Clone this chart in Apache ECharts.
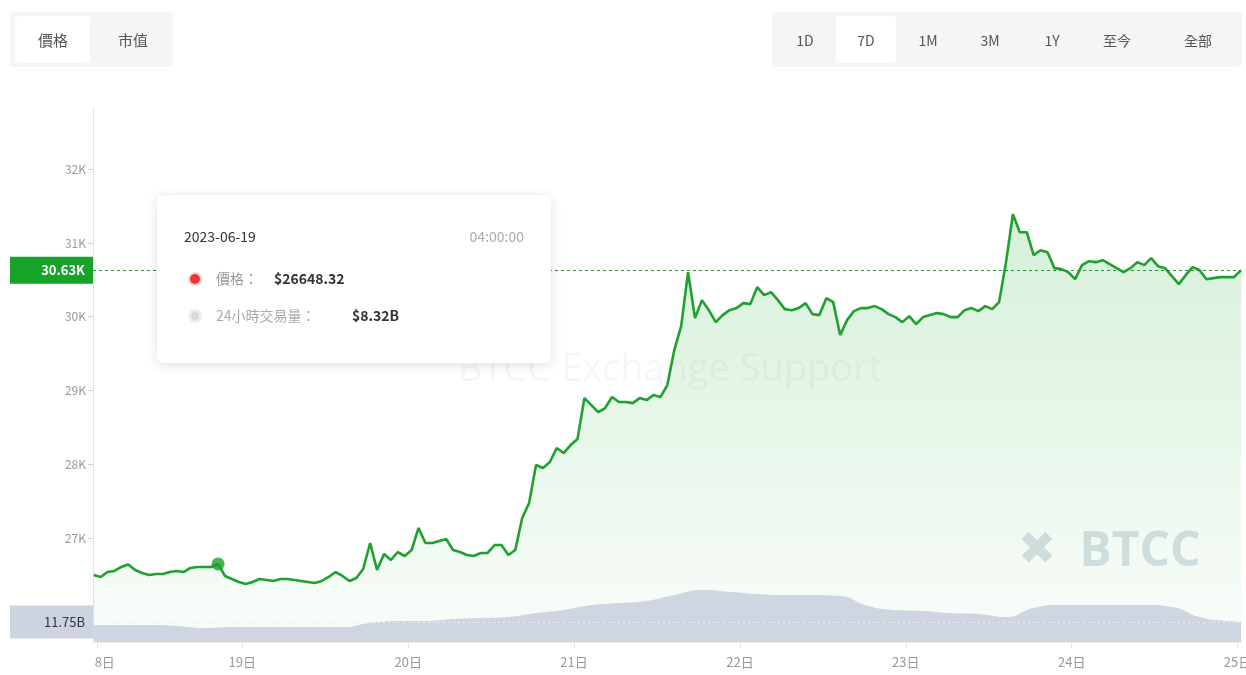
<!DOCTYPE html>
<html>
<head>
<meta charset="utf-8">
<script src="https://cdn.jsdelivr.net/npm/echarts@6/dist/echarts.min.js"></script>
<style>
html,body{margin:0;padding:0;background:#fff;}
#c{width:1246px;height:675px;}
</style>
</head>
<body>
<div id="c"></div>
<script>
// ---- data (hours relative to 2023-06-19 00:00) ----
const START_HOUR = -21.5;          // first price sample
const PRICE_STEP = 1;              // hours between price samples
const VOLUME_STEP = 4;             // hours between volume samples
const priceValues = [
26499,26472,26539,26553,26607,26640,26566,26526,26499,26512,
26512,26539,26553,26539,26594,26607,26607,26607,26648.32,26485,
26444,26404,26377,26404,26444,26431,26417,26444,26444,26431,
26417,26404,26390,26417,26472,26539,26485,26417,26458,26580,
26932,26566,26783,26702,26810,26756,26837,27136,26932,26932,
26959,26986,26837,26810,26770,26756,26797,26797,26905,26905,
26770,26837,27271,27474,27989,27949,28030,28220,28152,28260,
28341,28897,28802,28707,28762,28911,28843,28843,28829,28897,
28870,28938,28911,29073,29547,29873,30604,29981,30225,30089,
29927,30022,30089,30117,30184,30171,30401,30293,30333,30225,
30103,30089,30117,30184,30035,30022,30252,30198,29751,29954,
30076,30117,30117,30144,30103,30035,29995,29927,30008,29900,
29995,30022,30049,30035,29995,29995,30089,30117,30076,30144,
30103,30198,30740,31390,31146,31146,30835,30902,30875,30659,
30645,30604,30509,30699,30753,30740,30767,30713,30659,30604,
30659,30740,30699,30794,30686,30659,30550,30442,30564,30672,
30631,30509,30523,30537,30537,30537,30630
];
const volumeValues = [ // billions USD, 24h rolling volume
10.0,10.0,10.0,9.4,8.2,8.8,8.8,8.8,8.8,8.8,
11.2,12.3,12.3,13.5,14.1,14.7,17.0,18.8,21.7,22.9,
24.1,27.6,30.5,29.4,28.2,27.6,27.6,27.0,21.2,18.8,
18.2,17.0,16.5,14.7,20.0,21.7,21.7,21.7,21.7,20.6,
14.7,12.3,11.5
];
const highlightIndex = 18;
const lastPriceLabel = '30.63K';
const lastPrice = 30630;
const lastVolume = 11.75;
const lastVolumeLabel = '11.75B';
const priceTicks = [26000,27000,28000,29000,30000,31000,32000];
const dayTicks = [0,24,48,72,96,120,144];          // 19日 .. 25日
const dayNames = ['19日','20日','21日','22日','23日','24日','25日'];
const firstDayLabel = {hour:-19.9, text:'8日'};       // clipped "18日"
const firstDayTick = -21.0;
const tipDate = '2023-06-19';
const tipTime = '04:00:00';
const tipPrice = '$26648.32';
const tipVolume = '$8.32B';
const tabsLeft = ['價格','市值'];
const tabsRight = ['1D','7D','1M','3M','1Y','至今','全部'];

const priceData = priceValues.map((v,i)=>[START_HOUR + i*PRICE_STEP, v]);
const volumeData = volumeValues.map((v,i)=>[START_HOUR + i*VOLUME_STEP, v]);
const lastHour = priceData[priceData.length-1][0];

const FONT = '"Noto Sans CJK TC","Noto Sans",sans-serif';
const GREEN = '#1ea12f';

const chart = echarts.init(document.getElementById('c'), null, {renderer:'canvas'});

const graphics = [];
// left tab group
graphics.push({type:'rect', shape:{x:10,y:12,width:163,height:55,r:4}, style:{fill:'#f5f5f5'}, z:10});
graphics.push({type:'rect', shape:{x:15,y:16,width:75,height:47,r:4}, style:{fill:'#ffffff'}, z:11});
[53,133].forEach((cx,i)=>graphics.push({type:'text', x:cx, y:40, z:12,
  style:{text:tabsLeft[i], fill:'#555', font:'15px '+FONT, align:'center', verticalAlign:'middle'}}));
// right tab group
graphics.push({type:'rect', shape:{x:772,y:12,width:470,height:55,r:4}, style:{fill:'#f5f5f5'}, z:10});
graphics.push({type:'rect', shape:{x:836,y:16,width:60,height:47,r:4}, style:{fill:'#ffffff'}, z:11});
[805,866,928,990,1052,1117,1198].forEach((cx,i)=>graphics.push({type:'text', x:cx, y:41, z:12,
  style:{text:tabsRight[i], fill:'#555', font:'14px '+FONT, align:'center', verticalAlign:'middle'}}));
// watermarks
graphics.push({type:'text', x:670, y:370, z:1, silent:true,
  style:{text:'BTCC Exchange Support', fill:'rgba(0,0,0,0.035)', font:'38px "Open Sans",sans-serif', align:'center', verticalAlign:'middle'}});
graphics.push({type:'text', x:1037, y:552, z:1, silent:true,
  style:{text:'✖', fill:'#d9e0e7', font:'bold 46px "DejaVu Sans",sans-serif', align:'center', verticalAlign:'middle'}});
graphics.push({type:'text', x:1140, y:552, z:1, silent:true,
  style:{text:'BTCC', fill:'#d9e0e7', font:'bold 48px "Open Sans",sans-serif', align:'center', verticalAlign:'middle'}});
// tooltip box
graphics.push({type:'rect', shape:{x:157,y:195,width:394,height:168,r:6}, z:50,
  style:{fill:'#fff', shadowBlur:12, shadowColor:'rgba(0,0,0,0.13)', shadowOffsetY:2}});
graphics.push({type:'text', x:184, y:237, z:51, style:{text:tipDate, fill:'#333', font:'14px '+FONT, verticalAlign:'middle'}});
graphics.push({type:'text', x:524, y:237, z:51, style:{text:tipTime, fill:'#aaa', font:'14px '+FONT, align:'right', verticalAlign:'middle'}});
graphics.push({type:'circle', shape:{cx:195,cy:279,r:7}, z:51, style:{fill:'#f9d0d0'}});
graphics.push({type:'circle', shape:{cx:195,cy:279,r:5}, z:52, style:{fill:'#ee3535'}});
graphics.push({type:'text', x:216, y:279, z:51, style:{text:'價格：', fill:'#999', font:'14px '+FONT, verticalAlign:'middle'}});
graphics.push({type:'text', x:274, y:279, z:51, style:{text:tipPrice, fill:'#333', font:'bold 14px '+FONT, verticalAlign:'middle'}});
graphics.push({type:'circle', shape:{cx:195,cy:316,r:7}, z:51, style:{fill:'#eeeeee'}});
graphics.push({type:'circle', shape:{cx:195,cy:316,r:4}, z:52, style:{fill:'#d8d8d8'}});
graphics.push({type:'text', x:216, y:316, z:51, style:{text:'24小時交易量：', fill:'#aaa', font:'14px '+FONT, verticalAlign:'middle'}});
graphics.push({type:'text', x:352, y:316, z:51, style:{text:tipVolume, fill:'#333', font:'bold 14px '+FONT, verticalAlign:'middle'}});

const option = {
  animation:false,
  backgroundColor:'#fff',
  grid:{left:93, right:5, top:108, bottom:33, outerBoundsMode:'none', containLabel:false},
  xAxis:{
    type:'value', min:-21.6, max:lastHour,
    axisLine:{show:true, onZero:false, lineStyle:{color:'#eeeeee'}},
    axisTick:{show:true, length:6, lineStyle:{color:'#e6e6e6'}, customValues:[firstDayTick].concat(dayTicks)},
    splitLine:{show:false},
    axisLabel:{
      customValues:[firstDayLabel.hour].concat(dayTicks),
      color:'#999', fontSize:13, fontFamily:FONT, margin:14, hideOverlap:false,
      formatter:(v)=>{ if (v < 0) return firstDayLabel.text; const k = dayTicks.indexOf(Math.round(v)); return k>=0 ? dayNames[k] : ''; }
    }
  },
  yAxis:[{
    type:'value', min:25590, max:32830, position:'left',
    axisLine:{show:true, onZero:false, lineStyle:{color:'#e2e2e2'}},
    axisTick:{show:true, length:5, lineStyle:{color:'#d5d5d5'}, customValues:priceTicks},
    splitLine:{show:false},
    axisLabel:{customValues:priceTicks, color:'#999', fontSize:12, fontFamily:FONT, margin:7,
      formatter:(v)=> (v/1000)+'K'}
  },{
    type:'value', min:0, max:313.7, show:false, axisLine:{onZero:false}
  }],
  series:[{
    type:'line', name:'價格', data:priceData, yAxisIndex:0, showSymbol:false, smooth:false,
    lineStyle:{color:GREEN, width:2.6}, itemStyle:{color:GREEN}, z:3,
    areaStyle:{color:new echarts.graphic.LinearGradient(0,0,0,1,[
      {offset:0, color:'rgba(40,175,60,0.27)'},
      {offset:1, color:'rgba(40,175,60,0.04)'}])},
    markLine:{
      silent:true, symbol:'none',
      lineStyle:{color:'#1c9d2c', type:[3,3], width:1},
      label:{position:'start', distance:0, formatter:lastPriceLabel, color:'#fff', fontWeight:'bold', fontSize:13,
        fontFamily:FONT, backgroundColor:'#17a22a', padding:[7,8,7,8], width:67, align:'right'},
      data:[{yAxis:lastPrice}]
    }
  },{
    type:'line', name:'24小時交易量', data:volumeData, yAxisIndex:1, showSymbol:false, smooth:true,
    lineStyle:{width:0}, itemStyle:{color:'#cdd3e0'}, z:4,
    areaStyle:{color:'#cfd5e1', opacity:1},
    markLine:{
      silent:true, symbol:'none',
      lineStyle:{color:'#e9ecf2', type:[2,3], width:1},
      label:{position:'start', distance:0, formatter:lastVolumeLabel, color:'#333', fontSize:13,
        fontFamily:FONT, backgroundColor:'#cdd3e0', padding:[10,8,10,8], width:67, align:'right'},
      data:[{yAxis:lastVolume}]
    }
  },{
    type:'scatter', data:[priceData[highlightIndex]], yAxisIndex:0, symbolSize:13, z:6,
    itemStyle:{color:'#1a9f2c'}
  }],
  graphic:graphics
};
chart.setOption(option);
</script>
</body>
</html>
